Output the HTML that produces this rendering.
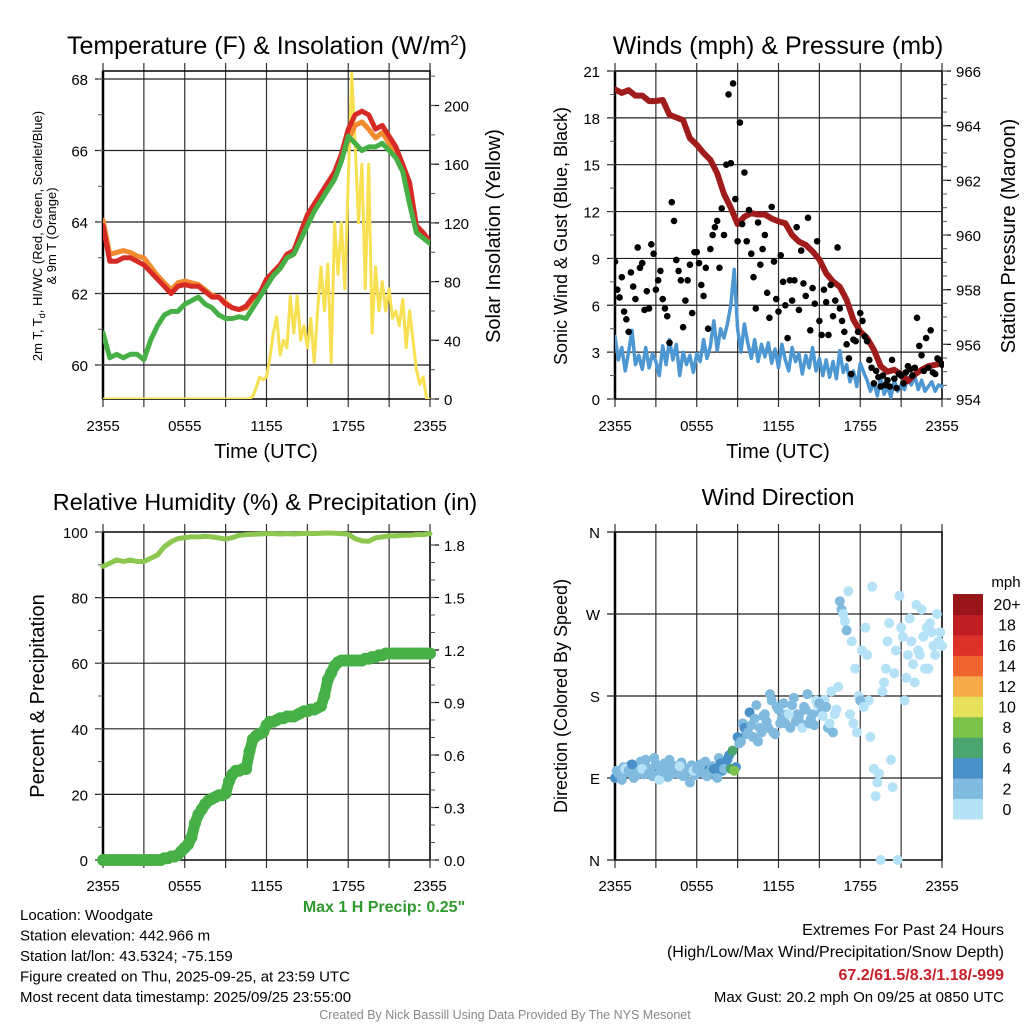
<!DOCTYPE html>
<html><head><meta charset="utf-8">
<style>
html,body{margin:0;padding:0;background:#fff;}
svg{display:block;font-family:"Liberation Sans",Arial,sans-serif;}
</style></head>
<body>
<svg id="chart" width="1024" height="1024" viewBox="0 0 1024 1024" xmlns="http://www.w3.org/2000/svg"></svg>
<script>
// ---------- DATA ----------
const timeTickLabels = ["2355","0555","1155","1755","2355"];
const timeTickHours = [0,6,12,18,24];
// Temperature, half-hourly (t = 0..24 h)
const tempRed = [63.9,62.9,62.9,63.0,63.0,62.9,62.8,62.6,62.4,62.2,62.0,62.2,62.25,62.2,62.2,62.05,61.9,61.9,61.7,61.6,61.55,61.65,61.9,62.0,62.4,62.6,62.8,63.1,63.2,63.7,64.2,64.5,64.8,65.1,65.4,65.9,66.6,67.0,67.1,67.0,66.6,66.7,66.4,66.1,65.6,65.1,63.9,63.7,63.45];
const tempOrange = [64.05,63.1,63.15,63.2,63.15,63.05,63.0,62.75,62.5,62.3,62.1,62.3,62.35,62.3,62.25,62.1,61.95,61.9,61.75,61.6,61.55,61.6,61.85,62.0,62.35,62.5,62.7,63.0,63.1,63.6,64.05,64.35,64.6,64.95,65.3,65.8,66.3,66.7,66.8,66.6,66.35,66.5,66.2,65.95,65.5,65.0,63.85,63.65,63.45];
const tempGreen = [60.9,60.2,60.3,60.2,60.3,60.3,60.15,60.7,61.1,61.4,61.5,61.5,61.7,61.8,61.9,61.7,61.6,61.4,61.3,61.3,61.35,61.3,61.6,61.9,62.2,62.5,62.7,63.0,63.1,63.5,63.9,64.3,64.6,64.9,65.2,65.7,66.4,66.2,66.0,66.1,66.1,66.2,66.0,65.8,65.4,64.5,63.7,63.55,63.4];
// Solar insolation, quarter-hourly
const insolation = [0,0,0,0,0,0,0,0,0,0,0,0,0,0,0,0,0,0,0,0,0,0,0,0,0,0,0,0,0,0,0,0,0,0,0,0,0,0,0,0,0,0,0,0,2,8,15,13,15,28,45,56,30,40,35,70,45,70,40,50,35,55,25,60,90,60,92,25,120,85,120,75,150,222,175,120,160,75,160,45,90,60,80,60,75,55,60,50,68,35,60,40,20,10,15,0,0];
// Pressure, half-hourly
const pressure = [965.33,965.2,965.3,965.1,965.1,964.9,964.9,964.94,964.4,964.3,964.2,963.54,963.3,963.0,962.75,962.26,961.5,961.0,960.4,960.67,960.8,960.75,960.75,960.6,960.5,960.43,960.0,959.76,959.64,959.4,959.1,958.6,958.3,958.1,957.63,956.9,956.47,956.23,955.8,955.2,955.0,955.07,954.9,954.65,954.9,955.07,955.2,955.25,955.3];
// Sonic wind speed, quarter-hourly
const windSpeed = [4.0,2.5,3.3,1.8,3.0,4.4,2.2,2.8,1.9,3.3,2.0,2.9,2.4,1.5,3.4,2.2,3.8,2.5,3.5,1.5,3.0,2.2,2.8,1.7,2.9,2.4,3.8,2.6,3.4,5.0,3.1,4.5,3.9,4.8,6.0,8.3,4.5,3.0,4.8,3.6,2.6,3.8,2.4,3.5,2.7,3.6,2.3,3.2,2.0,3.5,2.5,1.8,3.3,2.4,2.9,1.6,2.8,2.0,3.3,1.8,2.6,1.5,2.5,1.4,2.4,1.3,3.1,1.7,2.2,1.1,1.8,0.8,2.3,1.7,1.2,0.5,1.1,0.2,1.4,0.3,0.8,0.1,1.2,0.5,0.9,0.6,1.4,0.9,1.5,0.6,1.2,0.5,0.8,1.1,0.5,0.9,0.8];
// Wind gust, every 10 min
const windGust = [8.8,7.0,6.5,7.8,5.6,5.1, 4.3,8.1,7.2,6.4,9.7,8.4, 8.7,5.7,6.9,5.8,9.9,9.3, 7.0,7.6,8.2,6.4,5.8,5.3, 3.6,12.6,11.4,8.9,8.2,7.6, 4.6,6.3,7.6,8.6,5.5,9.4, 9.4,8.7,7.3,6.6,8.4,4.5, 9.6,10.5,11.0,11.4,8.4,12.2, 10.5,15.0,19.5,15.1,20.2,12.8, 10.1,17.7,11.2,14.5,10.1,12.1, 9.3,7.8,5.8,11.3,8.6,9.6, 10.5,6.8,5.2,12.3,8.8,6.4, 5.6,9.2,7.5,6.0,3.9,7.6, 6.3,7.6,11.0,5.7,9.5,7.4, 6.6,11.6,4.4,7.1,6.1,10.1, 5.0,4.1,7.0,6.2,4.1,7.3, 5.3,6.3,9.7,5.8,5.0,4.3, 3.5,2.6,1.6,3.8,3.7,4.3, 5.5,5.0,4.0,3.7,2.5,2.0, 1.0,1.8,1.4,0.8,1.5,0.9, 1.2,0.8,2.5,1.3,0.7,1.6, 1.5,1.0,1.7,2.1,1.9,1.5, 2.0,5.2,3.4,2.8,1.8,3.9, 2.0,4.4,1.7,1.6,2.6,2.5, 2.2];
// Relative humidity, half-hourly
const humidity = [89.5,90.5,91.5,91.0,91.5,91.0,91.0,92.0,93.0,95.5,97.0,98.0,98.3,98.5,98.5,98.7,98.5,98.2,97.8,98.3,99.0,99.2,99.3,99.4,99.5,99.5,99.4,99.5,99.4,99.5,99.6,99.5,99.6,99.7,99.6,99.5,99.3,98.0,97.3,97.2,98.2,98.5,98.8,98.8,99.0,99.0,99.2,99.2,99.5];
// Accumulated precipitation (in), quarter-hourly
const precip = [0,0,0,0,0,0,0,0,0,0,0,0,0,0,0,0,0,
0.00,0.01,0.01,0.02,0.02,0.03,0.05,0.07,0.09,0.13,0.21,0.26,0.29,0.32,0.34,0.35,0.36,0.37,0.37,0.38,0.45,0.49,0.51,0.51,0.52,0.52,0.62,0.69,0.71,0.72,0.73,0.77,0.79,0.79,0.80,0.81,0.81,0.82,0.82,0.82,0.83,0.84,0.85,0.85,0.86,0.86,0.87,0.88,0.94,1.03,1.07,1.11,1.13,1.14,
1.14,1.14,1.14,1.14,1.14,1.14,1.15,1.15,1.16,1.16,1.17,1.17,1.18,1.18,1.18,1.18,1.18,1.18,1.18,1.18,1.18,1.18,1.18,1.18,1.18,1.18];
// Wind direction (deg), quarter-hourly, paired with windSpeed
const windDir = [90,95,88,100,98,105,92,96,100,110,95,92,105,88,97,100,110,95,100,103,92,96,85,98,100,105,95,92,97,100,90,106,100,110,100,98,135,130,145,140,148,155,130,140,160,145,175,138,165,155,150,160,170,152,158,145,165,150,160,175,172,158,168,150,140,165,284,270,252,160,150,140,175,168,225,135,100,85,0,195,240,110,205,0,255,175,225,240,195,230,275,210,210,250,225,240,235];
// Second set of directions (offset 7.5 min) with their speeds
const windDir2 = [98,92,102,96,104,90,99,108,94,101,97,112,93,99,106,91,98,103,95,107,96,100,104,93,101,96,108,99,103,94,112,98,105,115,120,102,128,150,138,162,135,170,145,158,152,182,140,168,150,172,160,145,178,160,150,168,182,155,148,170,162,176,145,185,160,190,275,262,295,240,210,180,230,255,175,300,70,95,185,210,260,80,230,290,245,200,265,215,280,225,245,255,260,235,270,250];
const windSpeed2 = [3.2,2.8,2.4,3.6,2.6,3.1,2.5,3.4,2.7,2.2,3.5,2.6,3.0,2.4,3.3,2.9,2.6,3.2,2.4,3.0,2.7,2.3,3.1,2.5,3.3,2.8,3.0,4.2,3.6,4.4,3.2,4.6,4.2,5.5,7.2,5.0,3.6,3.9,3.1,4.2,3.0,3.3,2.8,3.6,2.9,3.1,2.5,3.4,2.9,2.6,2.8,2.2,2.7,2.1,2.5,2.0,2.6,2.2,2.4,1.9,2.1,1.7,2.3,1.6,1.8,1.5,2.6,1.9,1.7,1.3,1.6,1.0,1.4,1.2,0.9,0.6,0.8,0.4,0.9,0.5,0.7,0.3,0.6,0.5,0.8,0.7,1.0,0.8,1.1,0.9,0.7,0.6,0.9,1.4,0.8,0.7];
const colorbarLabels = ["0","2","4","6","8","10","12","14","16","18","20+"];
const colorbarColors = ["#b5e2f7","#80badf","#4a90c8","#4aa56e","#7cc24c","#e6e05a","#f5ab48","#ef6530","#dc3228","#be1e24","#98161a"];
const leftTicks1 = [60,62,64,66,68];
const rightTicks1 = [0,40,80,120,160,200];
const leftTicks2 = [0,3,6,9,12,15,18,21];
const rightTicks2 = [954,956,958,960,962,964,966];
const leftTicks3 = [0,20,40,60,80,100];
const rightTicks3 = [0.0,0.3,0.6,0.9,1.2,1.5,1.8];
const dirTicks = [0,90,180,270,360];
const dirLabels = ["N","E","S","W","N"];

// ---------- HELPERS ----------
const NS="http://www.w3.org/2000/svg";
const svg=document.getElementById('chart');
function mk(tag,attrs,parent){const e=document.createElementNS(NS,tag);for(const k in attrs)e.setAttribute(k,attrs[k]);(parent||svg).appendChild(e);return e;}
function txt(s,x,y,size,anchor,parent,extra){const e=mk('text',Object.assign({x:x,y:y,'font-size':size,'text-anchor':anchor||'middle',fill:'#000'},extra||{}),parent);e.textContent=s;return e;}

const P1={x0:103,x1:430,y0:71,y1:399};
const P2={x0:615,x1:942,y0:71,y1:399};
const P3={x0:103,x1:430,y0:532,y1:860};
const P4={x0:615,x1:942,y0:532,y1:860};
function xT(P,t){return P.x0+t/24*(P.x1-P.x0);}
const y1L=v=>365-(v-60)*35.75, y1R=v=>399-v*1.4675;
const y2L=v=>399-v*15.62, y2R=p=>399-(p-954)*27.33;
const y3L=v=>860-v*3.28, y3R=v=>860-v*175;
const y4=d=>860-d*0.9111;

function frame(P,g){
  for(let i=0;i<=8;i++){const x=P.x0+i*(P.x1-P.x0)/8;
    const l=mk('line',{x1:x,y1:P.y0-8,x2:x,y2:P.y1+8,stroke:'#333','stroke-width':1.2},g);
    }
  const r=mk('rect',{x:P.x0,y:P.y0,width:P.x1-P.x0,height:P.y1-P.y0,fill:'none',stroke:'#000','stroke-width':1.5},g);
  
  mk('line',{x1:P.x0,y1:P.y0,x2:P.x0,y2:P.y1,stroke:'#000','stroke-width':2.5},g);
}
function hgrid(P,ticks,fy,g,labels,side,size){
  ticks.forEach((v,i)=>{const y=fy(v);
    if(side==='left'){const l=mk('line',{x1:P.x0-8,y1:y,x2:P.x1,y2:y,stroke:'#222','stroke-width':1.2},g);
      
      const t=txt(labels?labels[i]:String(v),P.x0-15,y+6,size||15,'end',g);
      }
    else{mk('line',{x1:P.x1,y1:y,x2:P.x1+9,y2:y,stroke:'#000','stroke-width':1.2},g);
      const t=txt(labels?labels[i]:String(v),P.x1+14,y+6,size||15,'start',g);
      }
  });
}
function minor(P,fy,lo,hi,step,side,g){for(let v=lo;v<=hi+1e-9;v+=step){const y=fy(v);if(y<P.y0-1||y>P.y1+1)continue;
  if(side==='left')mk('line',{x1:P.x0-5,y1:y,x2:P.x0,y2:y,stroke:'#555','stroke-width':1},g);
  else mk('line',{x1:P.x1,y1:y,x2:P.x1+5,y2:y,stroke:'#555','stroke-width':1},g);}}
function xlabels(P,y,g){timeTickHours.forEach((h,i)=>{const t=txt(timeTickLabels[i],xT(P,h),y,15,'middle',g);
  });}
function line(P,arr,step,fy,color,w,g,name){const pts=arr.map((v,i)=>xT(P,i*step).toFixed(1)+','+fy(v).toFixed(1)).join(' ');
  const e=mk('polyline',{points:pts,fill:'none',stroke:color,'stroke-width':w,'stroke-linejoin':'round','stroke-linecap':'round'},g);
  return e;}

// ---------- PANEL 1 ----------
const g1=mk('g',{});
frame(P1,g1);
hgrid(P1,leftTicks1,y1L,g1,null,'left');
minor(P1,y1L,59,68,1,'left',g1);
hgrid(P1,rightTicks1,y1R,g1,null,'right');
minor(P1,y1R,0,220,20,'right',g1);
const cp1=mk('clipPath',{id:'c1'});mk('rect',{x:P1.x0,y:P1.y0,width:P1.x1-P1.x0,height:P1.y1-P1.y0},cp1);
const d1=mk('g',{'clip-path':'url(#c1)'},g1);
line(P1,insolation,0.25,y1R,'#f7e052',3,d1,'insolation-line');
line(P1,tempOrange,0.5,y1L,'#f28a30',5,d1,'temp-9m-line');
line(P1,tempRed,0.5,y1L,'#d62a25',5,d1,'temp-2m-line');
line(P1,tempGreen,0.5,y1L,'#46b046',5,d1,'dewpoint-line');
xlabels(P1,431,g1);
let t;
t=mk('text',{x:267,y:54,'font-size':25,'text-anchor':'middle'},g1);t.innerHTML='Temperature (F) &amp; Insolation (W/m<tspan dy="-9" font-size="15">2</tspan><tspan dy="9">)</tspan>';

t=mk('text',{'font-size':13,'text-anchor':'middle',transform:'translate(42,236) rotate(-90)'},g1);t.innerHTML='2m T, T<tspan dy="3" font-size="9">d</tspan><tspan dy="-3">, HI/WC (Red, Green, Scarlet/Blue)</tspan>';

t=txt('& 9m T (Orange)',0,0,13,'middle',g1,{transform:'translate(56,236) rotate(-90)'});

t=txt('Solar Insolation (Yellow)',0,0,20,'middle',g1,{transform:'translate(500,236) rotate(-90)'});

t=txt('Time (UTC)',266,458,20,'middle',g1);


// ---------- PANEL 2 ----------
const g2=mk('g',{});
frame(P2,g2);
hgrid(P2,leftTicks2,y2L,g2,null,'left');
minor(P2,y2L,0,21,1.5,'left',g2);
hgrid(P2,rightTicks2,y2R,g2,null,'right');
minor(P2,y2R,954,966,0.5,'right',g2);
const cp2=mk('clipPath',{id:'c2'});mk('rect',{x:P2.x0,y:P2.y0-2,width:P2.x1-P2.x0+2,height:P2.y1-P2.y0+4},cp2);
const d2=mk('g',{'clip-path':'url(#c2)'},g2);
line(P2,windSpeed,0.25,y2L,'#4d97d2',3.5,d2,'wind-speed-line');
line(P2,pressure,0.5,y2R,'#a01b1b',6,d2,'pressure-line');
windGust.forEach((v,i)=>{const c=mk('circle',{cx:xT(P2,i/6),cy:y2L(v),r:3.3,fill:'#000'},d2);
  });
xlabels(P2,431,g2);
t=txt('Winds (mph) & Pressure (mb)',778,54,25,'middle',g2);
t=txt('Sonic Wind & Gust (Blue, Black)',0,0,18,'middle',g2,{transform:'translate(567,236) rotate(-90)'});

t=txt('Station Pressure (Maroon)',0,0,20,'middle',g2,{transform:'translate(1015,236) rotate(-90)'});

t=txt('Time (UTC)',778,458,20,'middle',g2);

// ---------- PANEL 3 ----------
const g3=mk('g',{});
frame(P3,g3);
hgrid(P3,leftTicks3,y3L,g3,null,'left');
minor(P3,y3L,0,100,10,'left',g3);
hgrid(P3,rightTicks3,y3R,g3,rightTicks3.map(v=>v.toFixed(1)),'right');
minor(P3,y3R,0,1.8,0.1,'right',g3);
line(P3,humidity,0.5,y3L,'#8cc850',5,g3,'humidity-line');
line(P3,precip,0.25,y3R,'#46b046',11,g3,'precip-line');
precip.forEach((v,i)=>{const c=mk('circle',{cx:xT(P3,i*0.25),cy:y3R(v),r:6,fill:'#46b046'},g3);
  });
xlabels(P3,891,g3);
t=txt('Relative Humidity (%) & Precipitation (in)',265,510,23.5,'middle',g3);
t=txt('Percent & Precipitation',0,0,20,'middle',g3,{transform:'translate(44,696) rotate(-90)'});

t=txt('Max 1 H Precip: 0.25"',384,912,16,'middle',g3,{fill:'#2e9a2e','font-weight':'bold'});


// ---------- PANEL 4 ----------
const g4=mk('g',{});
frame(P4,g4);
hgrid(P4,dirTicks,y4,g4,dirLabels,'left');
function speedColor(s){let k=Math.floor(s/2);if(k>10)k=10;if(k<0)k=0;return colorbarColors[k];}
windDir2.forEach((d,i)=>{const c=mk('circle',{cx:xT(P4,i*0.25+0.125),cy:y4(d),r:5,fill:speedColor(windSpeed2[i])},g4);
  });
windDir.forEach((d,i)=>{const c=mk('circle',{cx:xT(P4,i*0.25),cy:y4(d),r:5,fill:speedColor(windSpeed[i])},g4);
  });
xlabels(P4,891,g4);
t=txt('Wind Direction',778,505,23.5,'middle',g4);
t=txt('Direction (Colored By Speed)',0,0,18,'middle',g4,{transform:'translate(567,696) rotate(-90)'});

const cb=mk('g',{},g4);
colorbarColors.forEach((c,i)=>{const h=225/11;const y=819-(i+1)*h;
  const r=mk('rect',{x:953,y:y,width:30,height:h+0.5,fill:c},cb);
  
  const l=txt(colorbarLabels[i],1007,y+h/2+6,16,'middle',cb);
  });
t=txt('mph',1006,587,15,'middle',cb);

// ---------- FOOTER ----------
const info=["Location: Woodgate","Station elevation: 442.966 m","Station lat/lon: 43.5324; -75.159","Figure created on Thu, 2025-09-25, at 23:59 UTC","Most recent data timestamp: 2025/09/25 23:55:00"];
info.forEach((s,i)=>{const e=txt(s,20,920+i*20.5,15,'start');});
t=txt('Extremes For Past 24 Hours',1004,935,16,'end');
t=txt('(High/Low/Max Wind/Precipitation/Snow Depth)',1004,957,16,'end');
t=txt('67.2/61.5/8.3/1.18/-999',1004,980,16,'end',null,{fill:'#c8202a','font-weight':'bold'});
t=txt('Max Gust: 20.2 mph On 09/25 at 0850 UTC',1004,1002,15,'end');
t=txt('Created By Nick Bassill Using Data Provided By The NYS Mesonet',505,1019,12.5,'middle',null,{fill:'#888'});
</script>
</body></html>
